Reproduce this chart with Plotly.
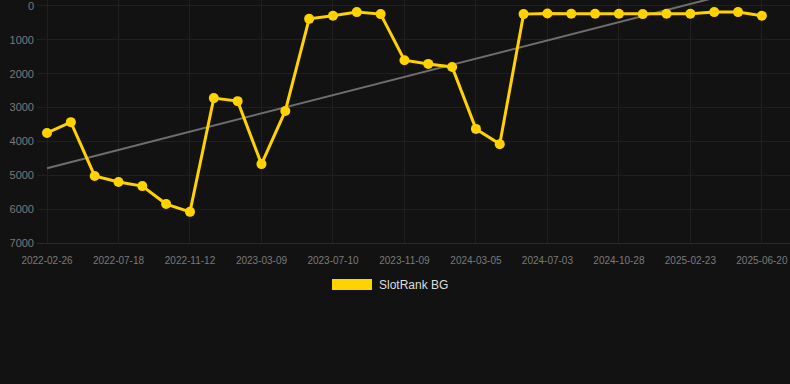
import plotly.graph_objects as go

dates = [
    "2022-02-26", "2022-04-14", "2022-06-01", "2022-07-18", "2022-08-24", "2022-10-01",
    "2022-11-12", "2022-12-21", "2023-01-29", "2023-03-09", "2023-04-18", "2023-05-30",
    "2023-07-10", "2023-08-20", "2023-09-29", "2023-11-09", "2023-12-18", "2024-01-26",
    "2024-03-05", "2024-04-14", "2024-05-24", "2024-07-03", "2024-08-11", "2024-09-19",
    "2024-10-28", "2024-12-06", "2025-01-14", "2025-02-23", "2025-04-01", "2025-05-10",
    "2025-06-20",
]
rank = [
    3750, 3430, 5020, 5200, 5320, 5850, 6080, 2720, 2810, 4670, 3100,
    380, 290, 180, 240, 1600, 1710, 1800, 3630, 4080,
    240, 220, 230, 230, 230, 240, 230, 230, 180, 180, 290,
]
trend_values = [4790, -600]
y_ticks = [0, 1000, 2000, 3000, 4000, 5000, 6000, 7000]
series_name = "SlotRank BG"

YELLOW = "#FFD200"
BG = "#121212"
GRID = "#1f1f1f"
TICK = "#7a7a7a"
FONT = "Liberation Sans, Arial, sans-serif"

fig = go.Figure()
fig.add_trace(go.Scatter(
    x=[dates[0], dates[-1]], y=trend_values, mode="lines",
    line=dict(color="#6e6e6e", width=2), showlegend=False, hoverinfo="skip",
))
fig.add_trace(go.Scatter(
    x=dates, y=rank, mode="lines+markers", name=series_name,
    line=dict(color=YELLOW, width=3),
    marker=dict(color=YELLOW, size=10),
    showlegend=False,
))

fig.update_layout(
    width=790, height=384,
    margin=dict(l=37, r=0, t=0, b=141),
    paper_bgcolor=BG, plot_bgcolor=BG,
    font=dict(family=FONT),
    xaxis=dict(
        type="category", categoryorder="array", categoryarray=dates,
        range=[-0.42, 31.18],
        tickvals=dates[::3], ticktext=dates[::3],
        tickfont=dict(size=10, color=TICK),
        showgrid=True, gridcolor=GRID, gridwidth=1,
        showline=True, linecolor="#2a2a2a", linewidth=1,
        ticks="", zeroline=False, fixedrange=True,
        ticklabelstandoff=8,
    ),
    yaxis=dict(
        range=[7000, -177], tickvals=y_ticks,
        tickfont=dict(size=11, color=TICK),
        showgrid=True, gridcolor=GRID, gridwidth=1,
        zeroline=False, ticks="", ticklabelstandoff=2,
        ticklabeloverflow="allow",
    ),
    shapes=[dict(
        type="rect", xref="paper", yref="paper",
        x0=(332 - 37) / 753, x1=(372 - 37) / 753,
        y0=(384 - 141 - 290) / 243, y1=(384 - 141 - 279) / 243,
        fillcolor=YELLOW, line=dict(width=0),
    )],
    annotations=[dict(
        text=series_name, xref="paper", yref="paper",
        x=(377 - 37) / 753, y=(384 - 141 - 285) / 243,
        xanchor="left", yanchor="middle", showarrow=False,
        font=dict(size=12, color="#dddddd"),
    )],
)

fig.write_html("out.html")
